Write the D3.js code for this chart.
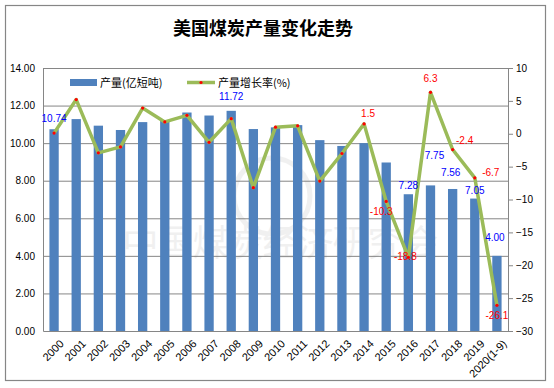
<!DOCTYPE html>
<html lang="zh">
<head>
<meta charset="UTF-8">
<title>美国煤炭产量变化走势</title>
<style>
  body { margin: 0; background: #fff; }
  svg text { font-family: "Liberation Sans", Arial, sans-serif; }
  .cjk { font-family: "Noto Sans CJK SC", sans-serif; }
  .axis path, .axis line { stroke: #868686; }
  .axis text { font-size: 10px; fill: #000; }
</style>
</head>
<body>
<div id="chart"></div>
<script src="https://cdn.jsdelivr.net/npm/d3@7/dist/d3.min.js"></script>
<script>
// categories
const years = ["2000", "2001", "2002", "2003", "2004", "2005", "2006", "2007", "2008", "2009",
  "2010", "2011", "2012", "2013", "2014", "2015", "2016", "2017", "2018", "2019", "2020(1-9)"];
// 产量 (亿短吨)
const output = [10.74, 11.28, 10.93, 10.70, 11.12, 11.23, 11.63, 11.47, 11.72, 10.75,
  10.84, 10.96, 10.16, 9.85, 10.00, 8.97, 7.28, 7.75, 7.56, 7.05, 4.00];
// 产量增长率 (%)
const growth = [0.1, 5.2, -2.9, -2.0, 3.9, 1.8, 2.8, -1.3, 2.3, -8.2,
  1.0, 1.2, -7.2, -3.0, 1.5, -10.3, -18.8, 6.3, -2.4, -6.7, -26.1];
const leftTicks = [0, 2, 4, 6, 8, 10, 12, 14];
const rightTicks = [-30, -25, -20, -15, -10, -5, 0, 5, 10];

// which points get a value label
const barLabelIdx = [0, 8, 16, 17, 18, 19, 20];
const lineLabelIdx = [14, 15, 16, 17, 18, 19, 20];
// label nudges [dx, dy] relative to the mark
const barLabelShift = { 0: [0, -7], 8: [0, -11], 16: [0, -5], 17: [4, -26], 18: [-2, -13], 19: [0, -5], 20: [-2, -15] };
const lineLabelShift = { 14: [4, -7], 15: [-5, 14], 16: [-3, 3], 17: [0, -10], 18: [12, -6], 19: [16, -2], 20: [0, 14] };

const W = 554, H = 388;
const plot = { left: 43, right: 508, top: 68, bottom: 331 };

const svg = d3.select("#chart").append("svg")
  .attr("width", W).attr("height", H);

// frame
svg.append("rect")
  .attr("x", 5.5).attr("y", 5.5).attr("width", 540).attr("height", 375)
  .attr("fill", "#fff").attr("stroke", "#868686").attr("stroke-width", 1.2);

// title
svg.append("text").attr("class", "cjk")
  .attr("x", 263).attr("y", 35)
  .attr("text-anchor", "middle")
  .attr("font-size", 18).attr("font-weight", "bold")
  .text("美国煤炭产量变化走势");

const x = d3.scaleBand().domain(years).range([plot.left, plot.right]).padding(0);
const yL = d3.scaleLinear().domain([0, 14]).range([plot.bottom, plot.top]);
const yR = d3.scaleLinear().domain([-30, 10]).range([plot.bottom, plot.top]);
const barW = x.bandwidth() * 0.42;
const cx = d => x(d) + x.bandwidth() / 2;

// gridlines
svg.append("g").selectAll("line")
  .data(leftTicks.slice(1))
  .join("line")
  .attr("x1", plot.left).attr("x2", plot.right)
  .attr("y1", d => yL(d) + 0.5).attr("y2", d => yL(d) + 0.5)
  .attr("stroke", "#868686");

// watermark
const wm = svg.append("g").attr("opacity", 0.09);
wm.append("circle").attr("cx", 272).attr("cy", 196).attr("r", 38)
  .attr("fill", "none").attr("stroke", "#666").attr("stroke-width", 5);
wm.append("text").attr("class", "cjk")
  .attr("x", 280).attr("y", 256).attr("text-anchor", "middle")
  .attr("font-size", 36).attr("fill", "#666")
  .attr("letter-spacing", -1)
  .text("中国煤炭经济研究会");

// bars
svg.append("g").selectAll("rect")
  .data(output)
  .join("rect")
  .attr("x", (d, i) => cx(years[i]) - barW / 2)
  .attr("width", barW)
  .attr("y", d => yL(d))
  .attr("height", d => plot.bottom - yL(d))
  .attr("fill", "#4F81BD");

// axes
svg.append("g").attr("class", "axis")
  .attr("transform", `translate(${plot.left},0)`)
  .call(d3.axisLeft(yL).tickValues(leftTicks).tickFormat(d3.format(".2f")).tickSize(0).tickPadding(8));

svg.append("g").attr("class", "axis")
  .attr("transform", `translate(${plot.right},0)`)
  .call(d3.axisRight(yR).tickValues(rightTicks).tickSize(5).tickSizeOuter(0).tickPadding(3));

const xa = svg.append("g").attr("class", "axis")
  .attr("transform", `translate(0,${plot.bottom})`)
  .call(d3.axisBottom(x).tickSize(0).tickSizeOuter(0).tickFormat(""));

svg.append("g").selectAll("text")
  .data(years)
  .join("text")
  .attr("transform", d => `translate(${cx(d) + 5},${plot.bottom + 8}) rotate(-45)`)
  .attr("text-anchor", "end")
  .attr("dy", "0.7em")
  .attr("font-size", 11)
  .text(d => d);

// growth line
const line = d3.line()
  .x((d, i) => cx(years[i]))
  .y(d => yR(d));

svg.append("path")
  .datum(growth)
  .attr("d", line)
  .attr("fill", "none")
  .attr("stroke", "#9BBB59")
  .attr("stroke-width", 3.5)
  .attr("stroke-linejoin", "round");

svg.append("g").selectAll("circle")
  .data(growth)
  .join("circle")
  .attr("cx", (d, i) => cx(years[i]))
  .attr("cy", d => yR(d))
  .attr("r", 1.6)
  .attr("fill", "#FF0000");

// value labels
svg.append("g").selectAll("text")
  .data(barLabelIdx)
  .join("text")
  .attr("x", i => cx(years[i]) + barLabelShift[i][0])
  .attr("y", i => yL(output[i]) + barLabelShift[i][1])
  .attr("text-anchor", "middle")
  .attr("font-size", 10)
  .attr("fill", "#0000FF")
  .text(i => output[i].toFixed(2));

svg.append("g").selectAll("text")
  .data(lineLabelIdx)
  .join("text")
  .attr("x", i => cx(years[i]) + lineLabelShift[i][0])
  .attr("y", i => yR(growth[i]) + lineLabelShift[i][1])
  .attr("text-anchor", "middle")
  .attr("font-size", 10)
  .attr("fill", "#FF0000")
  .text(i => growth[i].toFixed(1));

// legend
const lg = svg.append("g");
lg.append("rect").attr("x", 70).attr("y", 79).attr("width", 27).attr("height", 7).attr("fill", "#4F81BD");
lg.append("text").attr("class", "cjk").attr("x", 100).attr("y", 87).attr("font-size", 11).text("产量(亿短吨)");
lg.append("line").attr("x1", 187).attr("x2", 215).attr("y1", 82.5).attr("y2", 82.5)
  .attr("stroke", "#9BBB59").attr("stroke-width", 3.5);
lg.append("circle").attr("cx", 201).attr("cy", 82.5).attr("r", 1.6).attr("fill", "#FF0000");
lg.append("text").attr("class", "cjk").attr("x", 218).attr("y", 87).attr("font-size", 11).text("产量增长率(%)");
</script>
</body>
</html>
